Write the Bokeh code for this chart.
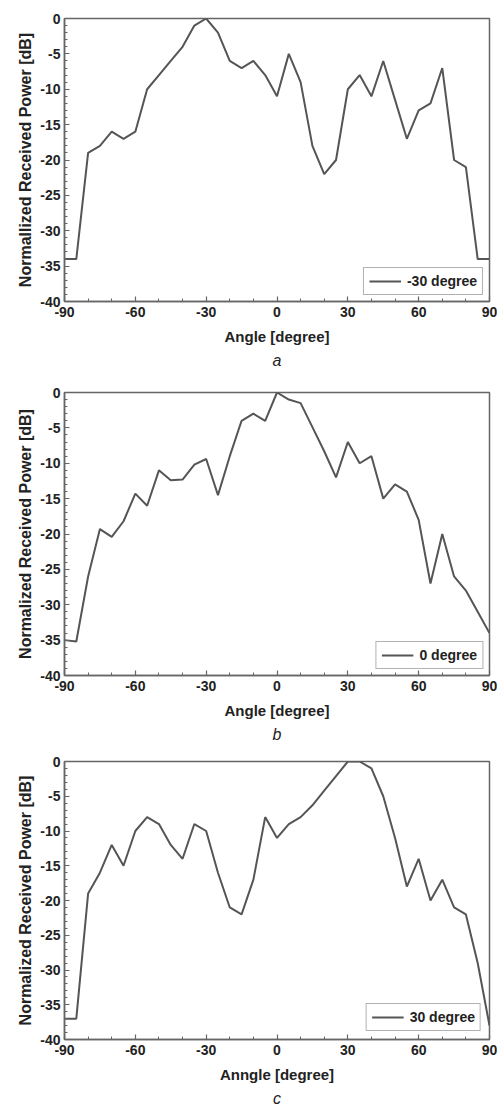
from bokeh.plotting import figure
from bokeh.layouts import column
from bokeh.models import FixedTicker, Title, Range1d, Legend, LegendItem
from bokeh.embed import file_html
from bokeh.resources import INLINE

angles = [-90, -85, -80, -75, -70, -65, -60, -55, -50, -45, -40, -35, -30, -25, -20, -15, -10, -5, 0,
          5, 10, 15, 20, 25, 30, 35, 40, 45, 50, 55, 60, 65, 70, 75, 80, 85, 90]

power_a = [-34, -34, -19, -18, -16, -17, -16, -10, -8, -6, -4, -1, 0, -2, -6, -7, -6, -8, -11,
           -5, -9, -18, -22, -20, -10, -8, -11, -6, -11.5, -17, -13, -12, -7, -20, -21, -34, -34]
power_b = [-35, -35.2, -26, -19.3, -20.4, -18.2, -14.3, -16, -11, -12.4, -12.3, -10.2, -9.4, -14.5, -9, -4, -3, -4, 0,
           -1, -1.5, -4.9, -8.3, -12, -7, -10, -9, -15, -13, -14, -18, -27, -20, -26, -28, -31, -34]
power_c = [-37, -37, -19, -16, -12, -15, -10, -8, -9, -12, -14, -9, -10, -16, -21, -22, -17, -8, -11,
           -9, -8, -6.3, -4.2, -2.1, 0, 0, -1, -5, -11, -18, -14, -20, -17, -21, -22, -29, -38]

x_major = [-90, -60, -30, 0, 30, 60, 90]
x_labels = ["-90", "-60", "-30", "0", "30", "60", "90"]
x_minor = [-90, -80, -70, -60, -50, -40, -30, -20, -10, 0, 10, 20, 30, 40, 50, 60, 70, 80, 90]
y_major = [-40, -35, -30, -25, -20, -15, -10, -5, 0]
y_labels = ["-40", "-35", "-30", "-25", "-20", "-15", "-10", "-5", "0"]
y_minor = list(range(-40, 1))

panels = [
    dict(y=power_a, legend="-30 degree", ylabel="Normallized Received Power [dB]", xlabel="Angle [degree]",
         caption="a", height=378, top=18, bottom=77, lmargin=6),
    dict(y=power_b, legend="0 degree", ylabel="Normalized Received Power [dB]", xlabel="Angle [degree]",
         caption="b", height=370, top=14, bottom=73, lmargin=6),
    dict(y=power_c, legend="30 degree", ylabel="Normalized Received Power [dB]", xlabel="Anngle [degree]",
         caption="c", height=360, top=13, bottom=64, lmargin=8),
]

FONT = "Liberation Sans"
LINE = "#555555"
AXIS = "#666666"

figs = []
for pd_ in panels:
    p = figure(width=497, height=pd_["height"], output_backend="svg", toolbar_location=None,
               x_range=Range1d(-90, 90), y_range=Range1d(-40, 0),
               min_border_left=64, min_border_right=8,
               min_border_top=pd_["top"], min_border_bottom=pd_["bottom"])
    p.xgrid.visible = False
    p.ygrid.visible = False
    p.outline_line_color = AXIS
    p.outline_line_width = 1.5
    p.background_fill_color = "white"
    p.border_fill_color = "white"

    r = p.line(angles, pd_["y"], line_color=LINE, line_width=2)

    for ax in (p.xaxis[0], p.yaxis[0]):
        ax.axis_line_color = AXIS
        ax.axis_line_width = 1.5
        ax.major_tick_line_color = AXIS
        ax.minor_tick_line_color = AXIS
        ax.major_tick_line_width = 1.2
        ax.minor_tick_line_width = 1
        ax.major_tick_in = 5
        ax.major_tick_out = 0
        ax.minor_tick_in = 3
        ax.minor_tick_out = 0
        ax.major_label_text_font = FONT
        ax.major_label_text_font_style = "bold"
        ax.major_label_text_font_size = "14px"
        ax.major_label_text_color = "#222222"
        ax.axis_label_text_font = FONT
        ax.axis_label_text_font_style = "bold"
        ax.axis_label_text_color = "#222222"

    p.xaxis[0].major_label_standoff = 5
    p.yaxis[0].major_label_standoff = 4
    p.xaxis[0].ticker = FixedTicker(ticks=x_major, minor_ticks=x_minor)
    p.yaxis[0].ticker = FixedTicker(ticks=y_major, minor_ticks=y_minor)
    p.xaxis[0].major_label_overrides = dict(zip(x_major, x_labels))
    p.yaxis[0].major_label_overrides = dict(zip(y_major, y_labels))
    p.xaxis[0].axis_label = pd_["xlabel"]
    p.yaxis[0].axis_label = pd_["ylabel"]
    p.xaxis[0].axis_label_text_font_size = "15px"
    p.yaxis[0].axis_label_text_font_size = "16px"
    p.xaxis[0].axis_label_standoff = 8
    p.yaxis[0].axis_label_standoff = 3

    legend = Legend(items=[LegendItem(label=pd_["legend"], renderers=[r])],
                    location="bottom_right", margin=pd_["lmargin"], padding=5,
                    glyph_width=32, glyph_height=16, label_height=16,
                    label_standoff=6,
                    label_text_font=FONT, label_text_font_style="bold",
                    label_text_font_size="14px", label_text_color="#222222",
                    border_line_color=AXIS, border_line_width=1.5,
                    background_fill_alpha=1.0)
    p.add_layout(legend)

    cap = Title(text=pd_["caption"], align="center", text_font=FONT,
                text_font_style="italic", text_font_size="16px",
                text_color="#222222", standoff=4)
    p.add_layout(cap, "below")
    figs.append(p)

layout = column(*figs, spacing=0)
open("out.html", "w").write(file_html(layout, INLINE))
